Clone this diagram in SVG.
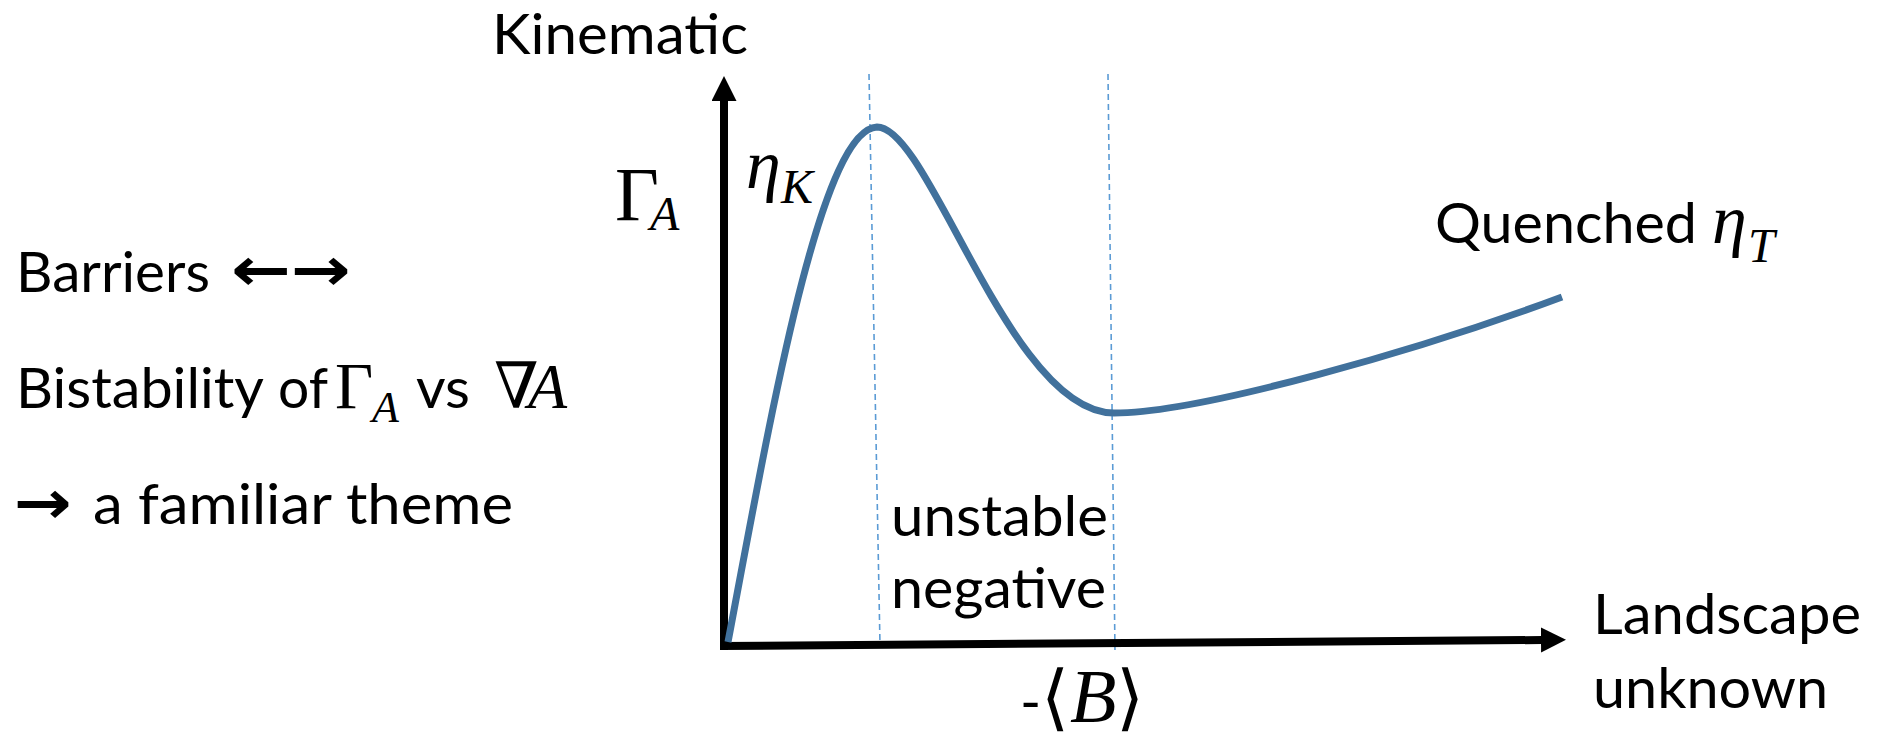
<svg xmlns="http://www.w3.org/2000/svg" width="1879" height="739" viewBox="0 0 1879 739">
<defs>
<style>
.t{font-family:Lato,"Noto Sans",sans-serif;font-size:57px;fill:#000}
.m{font-family:"Liberation Serif","DejaVu Serif",serif;fill:#000}
.mi{font-family:"Liberation Serif","DejaVu Serif",serif;font-style:italic;fill:#000}
.ar{font-family:"DejaVu Sans",sans-serif;font-size:60px;font-weight:bold;fill:#000}
.axis{stroke:#000;stroke-width:8;fill:none}
.guide{stroke:#5B9BD5;stroke-width:1.6;stroke-dasharray:6 4;fill:none}
.curve{stroke:#41719C;stroke-width:7;fill:none;stroke-linecap:butt}
</style>
<marker id="ah" markerUnits="userSpaceOnUse" markerWidth="26" markerHeight="26" refX="1" refY="12.5" orient="auto">
<path d="M0,0 L25,12.5 L0,25 z" fill="#000"/>
</marker>
</defs>
<rect width="1879" height="739" fill="#fff"/>

<g id="connectors">
<path class="guide" d="M869,74 L880,645"/>
<path class="guide" d="M1108,74 L1115,652"/>
<path id="y-axis" class="axis" d="M724,650 L724,100" marker-end="url(#ah)"/>
<path id="x-axis" class="axis" d="M720,646 L1542,640" marker-end="url(#ah)"/>
<path id="curve" class="curve" d="M728,642 C770,420 820,130 877,127 C930,127 1010,413 1114,413 C1200,413 1420,350 1562,297"/>
</g>

<g id="label-kinematic"><text class="t" x="492" y="54" textLength="256" lengthAdjust="spacingAndGlyphs">Kinematic</text></g>
<g id="label-gamma">
<text class="m" x="615" y="220" font-size="76">Γ</text>
<text class="mi" x="650" y="230" font-size="48">A</text>
</g>
<g id="label-etaK">
<text class="mi" x="746" y="188" font-size="70">η</text>
<text class="mi" x="781" y="203" font-size="48">K</text>
</g>
<g id="label-quenched">
<text class="t" x="1435" y="243" textLength="262" lengthAdjust="spacingAndGlyphs">Quenched</text>
<text class="mi" x="1712" y="243" font-size="70">η</text>
<text class="mi" x="1748" y="262" font-size="48">T</text>
</g>
<g id="label-unstable">
<text class="t" x="891" y="536" textLength="217" lengthAdjust="spacingAndGlyphs">unstable</text>
<text class="t" x="891" y="608" textLength="215" lengthAdjust="spacingAndGlyphs">negative</text>
</g>
<g id="label-B">
<text class="t" x="1020" y="722">-</text>
<text class="m" x="1041" y="722" font-size="72">⟨</text>
<text class="mi" x="1070" y="722" font-size="76">B</text>
<text class="m" x="1116" y="722" font-size="72">⟩</text>
</g>
<g id="label-landscape">
<text class="t" x="1593" y="634" textLength="268" lengthAdjust="spacingAndGlyphs">Landscape</text>
<text class="t" x="1593" y="708" textLength="235" lengthAdjust="spacingAndGlyphs">unknown</text>
</g>
<g id="left-text">
<text class="t" x="16" y="292" textLength="194" lengthAdjust="spacingAndGlyphs">Barriers</text>
<text class="ar" x="231" y="290" textLength="120" lengthAdjust="spacingAndGlyphs">←→</text>
<text class="t" x="16" y="408" textLength="248" lengthAdjust="spacingAndGlyphs">Bistability</text>
<text class="t" x="278" y="408" textLength="50" lengthAdjust="spacingAndGlyphs">of</text>
<text class="m" x="335" y="408" font-size="66">Γ</text>
<text class="mi" x="372" y="422" font-size="44">A</text>
<text class="t" x="416" y="408" textLength="54" lengthAdjust="spacingAndGlyphs">vs</text>
<text class="mi" x="494" y="408" font-size="64">∇</text>
<text class="mi" x="528" y="408" font-size="64">A</text>
<text class="ar" x="14" y="523" textLength="58" lengthAdjust="spacingAndGlyphs">→</text>
<text class="t" x="93" y="524" textLength="420" lengthAdjust="spacingAndGlyphs">a familiar theme</text>
</g>
</svg>
